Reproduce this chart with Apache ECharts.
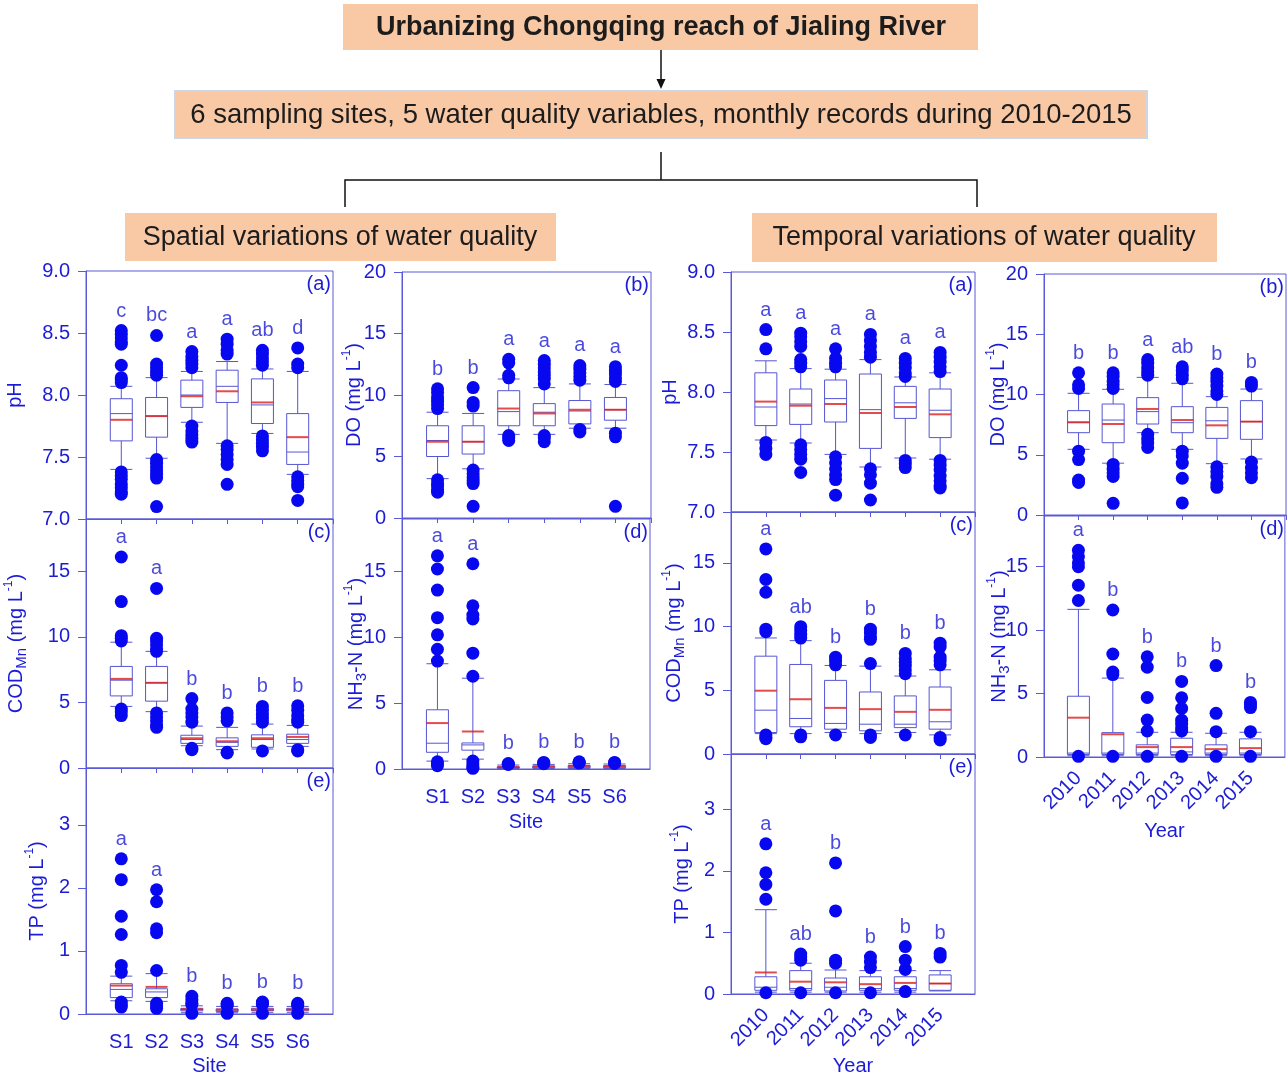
<!DOCTYPE html>
<html>
<head>
<meta charset="utf-8">
<script src="https://cdn.jsdelivr.net/npm/echarts@6/dist/echarts.min.js"></script>
<style>
  html, body { margin: 0; padding: 0; background: #ffffff; }
  #chart { width: 1287px; height: 1077px; }
</style>
</head>
<body>
<div id="chart"></div>
<script>
// ---- categories ----
const sites = ['S1', 'S2', 'S3', 'S4', 'S5', 'S6'];
const years = ['2010', '2011', '2012', '2013', '2014', '2015'];

// ---- spatial variations (by site) ----
// box stats: [lower whisker, Q1, median, Q3, upper whisker]
const spPhBox = [[7.40, 7.63, 7.85, 7.97, 8.07], [7.49, 7.66, 7.83, 7.98, 8.14], [7.78, 7.90, 8.00, 8.12, 8.19],
                 [7.61, 7.94, 8.07, 8.20, 8.27], [7.69, 7.77, 7.92, 8.13, 8.21], [7.36, 7.44, 7.54, 7.85, 8.19]];
const spPhMean = [7.80, 7.83, 7.99, 8.03, 7.94, 7.66];
const spPhOut = [[8.52, 8.49, 8.46, 8.43, 8.41, 8.24, 8.14, 8.12, 8.10, 7.38, 7.35, 7.32, 7.28, 7.25, 7.22, 7.20],
                 [8.48, 8.25, 8.22, 8.19, 8.16, 7.48, 7.45, 7.42, 7.39, 7.36, 7.33, 7.10],
                 [8.35, 8.31, 8.28, 8.25, 8.22, 7.75, 7.71, 7.68, 7.65, 7.62],
                 [8.45, 8.41, 8.36, 8.33, 7.59, 7.56, 7.52, 7.48, 7.44, 7.28],
                 [8.36, 8.33, 8.30, 8.27, 8.24, 7.67, 7.64, 7.61, 7.58, 7.55],
                 [8.38, 8.25, 8.22, 7.34, 7.31, 7.28, 7.26, 7.15]];
const spPhLetters = ['c', 'bc', 'a', 'a', 'ab', 'd'];

const spDoBox = [[3.2, 5.0, 6.3, 7.5, 8.6], [4.0, 5.2, 6.2, 7.5, 8.5], [6.8, 7.5, 8.65, 10.35, 11.3],
                 [6.8, 7.5, 8.6, 9.3, 10.6], [7.3, 7.65, 8.7, 9.55, 10.9], [7.3, 7.95, 8.8, 9.8, 10.85]];
const spDoMean = [6.2, 6.2, 8.9, 8.5, 8.8, 8.8];
const spDoOut = [[10.5, 10.2, 9.8, 9.5, 9.2, 8.9, 3.1, 2.8, 2.6, 2.3, 2.1],
                 [10.6, 9.4, 9.1, 3.9, 3.6, 3.3, 3.0, 2.8, 0.95],
                 [12.9, 12.6, 11.6, 11.4, 6.7, 6.5, 6.3],
                 [12.8, 12.5, 12.2, 11.9, 11.6, 11.3, 10.9, 6.7, 6.5, 6.2],
                 [12.4, 12.1, 11.8, 11.5, 11.2, 7.2, 7.0],
                 [12.3, 12.0, 11.7, 11.4, 11.1, 6.9, 6.6, 0.95]];
const spDoLetters = ['b', 'b', 'a', 'a', 'a', 'a'];

const spCodBox = [[4.7, 5.5, 6.7, 7.75, 9.6], [4.3, 5.1, 6.5, 7.75, 8.9], [1.7, 1.88, 2.17, 2.5, 3.2],
                  [1.4, 1.65, 1.96, 2.3, 3.1], [1.45, 1.58, 2.17, 2.53, 3.35], [1.65, 1.88, 2.17, 2.58, 3.25]];
const spCodMean = [6.8, 6.5, 2.27, 2.04, 2.27, 2.37];
const spCodOut = [[16.1, 12.7, 10.1, 9.9, 9.7, 4.5, 4.3, 4.0],
                  [13.7, 9.9, 9.7, 9.4, 9.1, 8.9, 4.2, 3.9, 3.6, 3.3, 3.1],
                  [5.3, 4.5, 4.2, 3.9, 3.5, 1.5, 1.4],
                  [4.2, 3.9, 3.6, 1.2, 1.15],
                  [4.7, 4.4, 4.1, 3.8, 3.5, 1.3],
                  [4.75, 4.4, 4.0, 3.7, 3.5, 1.4, 1.3]];
const spCodLetters = ['a', 'a', 'b', 'b', 'b', 'b'];

const spNhBox = [[0.6, 1.27, 1.96, 4.5, 8.0], [0.75, 1.43, 1.83, 1.98, 6.9], [0.03, 0.07, 0.11, 0.17, 0.3],
                 [0.03, 0.08, 0.14, 0.22, 0.35], [0.04, 0.1, 0.16, 0.25, 0.4], [0.04, 0.09, 0.15, 0.24, 0.38]];
const spNhMean = [3.49, 2.85, 0.14, 0.2, 0.24, 0.22];
const spNhOut = [[16.2, 15.2, 13.6, 11.5, 10.2, 9.1, 8.2, 0.55, 0.4, 0.25],
                 [15.6, 12.4, 11.7, 11.4, 8.8, 7.05, 0.6, 0.4, 0.15, 0.05],
                 [0.42, 0.38, 0.34],
                 [0.5, 0.45, 0.4],
                 [0.55, 0.5, 0.45],
                 [0.5, 0.46, 0.42]];
const spNhLetters = ['a', 'a', 'b', 'b', 'b', 'b'];

const spTpBox = [[0.21, 0.26, 0.39, 0.48, 0.60], [0.20, 0.26, 0.35, 0.40, 0.64], [0.02, 0.05, 0.07, 0.09, 0.13],
                 [0.02, 0.04, 0.06, 0.08, 0.12], [0.02, 0.05, 0.06, 0.09, 0.12], [0.02, 0.05, 0.07, 0.09, 0.12]];
const spTpMean = [0.45, 0.43, 0.075, 0.07, 0.07, 0.07];
const spTpOut = [[2.46, 2.13, 1.55, 1.26, 0.77, 0.66, 0.19, 0.15, 0.11],
                 [1.97, 1.78, 1.35, 1.29, 0.69, 0.17, 0.13, 0.09],
                 [0.28, 0.22, 0.17, 0.15, 0.01],
                 [0.17, 0.15, 0.13, 0.01],
                 [0.19, 0.17, 0.15, 0.01],
                 [0.17, 0.15, 0.13, 0.01]];
const spTpLetters = ['a', 'a', 'b', 'b', 'b', 'b'];

// ---- temporal variations (by year) ----
const tmPhBox = [[7.60, 7.72, 7.875, 8.16, 8.26], [7.575, 7.73, 7.90, 8.025, 8.195], [7.48, 7.75, 7.945, 8.10, 8.19],
                 [7.375, 7.53, 7.853, 8.15, 8.27], [7.45, 7.78, 7.91, 8.047, 8.125], [7.44, 7.62, 7.848, 8.025, 8.16]];
const tmPhMean = [7.92, 7.886, 7.90, 7.825, 7.875, 7.814];
const tmPhOut = [[8.52, 8.36, 7.58, 7.53, 7.48],
                 [8.49, 8.46, 8.42, 8.38, 8.27, 8.24, 8.21, 7.56, 7.52, 7.48, 7.44, 7.33],
                 [8.36, 8.28, 8.24, 8.21, 7.46, 7.41, 7.36, 7.31, 7.27, 7.14],
                 [8.48, 8.43, 8.38, 8.33, 8.29, 7.36, 7.31, 7.24, 7.10],
                 [8.28, 8.24, 8.20, 8.16, 8.13, 7.43, 7.40, 7.37],
                 [8.33, 8.29, 8.25, 8.21, 8.17, 7.43, 7.39, 7.35, 7.30, 7.26, 7.22, 7.20]];
const tmPhLetters = ['a', 'a', 'a', 'a', 'a', 'a'];

const tmDoBox = [[5.45, 6.83, 7.7, 8.66, 10.1], [4.3, 6.0, 7.88, 9.21, 10.43], [6.83, 7.55, 8.58, 9.74, 11.42],
                 [5.45, 6.83, 7.66, 8.99, 10.93], [4.26, 6.36, 7.82, 8.93, 9.82], [4.65, 6.28, 7.75, 9.49, 10.45]];
const tmDoMean = [7.69, 7.55, 8.8, 7.88, 7.44, 7.75];
const tmDoOut = [[11.8, 10.8, 10.5, 5.3, 4.6, 2.9, 2.7],
                 [11.8, 11.5, 11.1, 10.8, 10.5, 4.2, 3.8, 3.5, 3.2, 0.97],
                 [12.9, 12.6, 12.2, 11.9, 11.6, 6.7, 6.3, 6.0, 5.6],
                 [12.3, 12.0, 11.6, 11.3, 5.3, 4.9, 4.3, 3.05, 1.0],
                 [11.7, 11.4, 11.1, 10.7, 10.3, 10.0, 4.0, 3.6, 3.2, 2.6, 2.3],
                 [11.0, 10.7, 4.4, 3.9, 3.5, 3.1]];
const tmDoLetters = ['b', 'b', 'a', 'ab', 'b', 'b'];

const tmCodBox = [[1.6, 1.69, 3.44, 7.68, 9.11], [1.6, 2.14, 2.79, 7.03, 8.9], [1.69, 1.95, 2.4, 5.78, 6.95],
                  [1.6, 1.82, 2.34, 4.87, 6.9], [1.69, 2.07, 2.34, 4.56, 6.12], [1.5, 1.95, 2.53, 5.26, 6.61]];
const tmCodMean = [4.97, 4.3, 3.62, 3.52, 3.31, 3.47];
const tmCodOut = [[16.1, 13.7, 12.7, 9.8, 9.6, 1.5, 1.3, 1.2],
                  [10.0, 9.7, 9.4, 9.1, 1.5, 1.35],
                  [7.6, 7.3, 7.0, 1.5],
                  [9.8, 9.5, 9.2, 9.0, 7.1, 1.5, 1.3],
                  [7.9, 7.5, 7.2, 6.9, 6.6, 6.3, 1.5],
                  [8.7, 8.4, 7.6, 7.3, 7.0, 1.3, 1.1]];
const tmCodLetters = ['a', 'ab', 'b', 'b', 'b', 'b'];

const tmNhBox = [[0.1, 0.2, 0.31, 4.79, 11.64], [0.1, 0.2, 0.31, 1.92, 6.22], [0.1, 0.2, 0.31, 0.96, 1.95],
                 [0.1, 0.2, 0.4, 1.48, 1.95], [0.1, 0.2, 0.31, 0.96, 1.87], [0.1, 0.2, 0.31, 1.43, 1.95]];
const tmNhMean = [3.1, 1.79, 0.78, 0.78, 0.62, 0.7];
const tmNhOut = [[16.3, 15.8, 15.3, 15.0, 13.54, 12.34, 0.05],
                 [11.59, 8.12, 6.7, 6.5, 0.05],
                 [7.9, 7.08, 4.69, 2.91, 2.05, 0.05],
                 [5.96, 4.67, 3.83, 2.9, 2.6, 2.3, 2.05, 0.05],
                 [7.21, 3.44, 2.0, 0.05],
                 [4.3, 4.1, 3.9, 2.0, 0.05]];
const tmNhLetters = ['a', 'b', 'b', 'b', 'b', 'b'];

const tmTpBox = [[0.03, 0.06, 0.11, 0.28, 1.37], [0.03, 0.06, 0.09, 0.38, 0.50], [0.03, 0.05, 0.11, 0.26, 0.39],
                 [0.03, 0.06, 0.09, 0.28, 0.38], [0.03, 0.06, 0.09, 0.28, 0.38], [0.05, 0.06, 0.17, 0.31, 0.38]];
const tmTpMean = [0.35, 0.20, 0.19, 0.16, 0.18, 0.17];
const tmTpOut = [[2.44, 1.97, 1.78, 1.54, 0.02],
                 [0.65, 0.60, 0.55, 0.02],
                 [2.13, 1.35, 0.55, 0.50, 0.02],
                 [0.60, 0.52, 0.43, 0.02],
                 [0.77, 0.55, 0.40, 0.04],
                 [0.66, 0.60]];
const tmTpLetters = ['a', 'ab', 'b', 'b', 'b', 'b'];

// ---- styling ----
const W = 1287;
const FONT = 'Liberation Sans, Arial, Helvetica, sans-serif';
const TXT = '#1c1cd6';
const FRAME = '#5a5ad8';
const BOXLINE = '#5656d4';
const DOT = '#0808f0';
const MEANC = '#e01e1e';
const PEACH = '#f9c8a5';
const DARK = '#1c1c1c';

const nameRich = {
  t: { fontSize: 20, lineHeight: 26, color: TXT, fontFamily: FONT },
  sub: { fontSize: 15, verticalAlign: 'bottom', color: TXT, fontFamily: FONT },
  sup: { fontSize: 12, verticalAlign: 'top', color: TXT, fontFamily: FONT }
};
const NAME_PH = '{t|pH}';
const NAME_DO = '{t|DO (mg L}{sup|-1}{t|)}';
const NAME_COD = '{t|COD}{sub|Mn}{t| (mg L}{sup|-1}{t|)}';
const NAME_NH = '{t|NH}{sub|3}{t|-N (mg L}{sup|-1}{t|)}';
const NAME_TP = '{t|TP (mg L}{sup|-1}{t|)}';

const AX_PH = { min: 7, max: 9, interval: 0.5, dec: 1 };
const AX_DO = { min: 0, max: 20, interval: 5, dec: 0 };
const AX_COD = { min: 0, max: 19, interval: 5, dec: 0, hideMax: true };
const AX_NH = { min: 0, max: 19, interval: 5, dec: 0, hideMax: true };
const AX_TP = { min: 0, max: 3.9, interval: 1, dec: 0, hideMax: true };

// panel layout: rect = [left, top, width, height]; gap = y-axis name gap; xGap = x-axis name gap
const panels = [
  { tag: '(a)', cats: sites, box: spPhBox, mean: spPhMean, out: spPhOut, letters: spPhLetters, rect: [86, 271, 247, 248], ax: AX_PH, name: NAME_PH, gap: 58 },
  { tag: '(c)', cats: sites, box: spCodBox, mean: spCodMean, out: spCodOut, letters: spCodLetters, rect: [86, 519, 247, 249], ax: AX_COD, name: NAME_COD, gap: 57 },
  { tag: '(e)', cats: sites, box: spTpBox, mean: spTpMean, out: spTpOut, letters: spTpLetters, rect: [86, 768, 247, 248], ax: AX_TP, name: NAME_TP, gap: 36, bottom: 'Site', xGap: 42 },
  { tag: '(b)', cats: sites, box: spDoBox, mean: spDoMean, out: spDoOut, letters: spDoLetters, rect: [402, 272, 249, 246], ax: AX_DO, name: NAME_DO, gap: 35 },
  { tag: '(d)', cats: sites, box: spNhBox, mean: spNhMean, out: spNhOut, letters: spNhLetters, rect: [402, 519, 248, 250], ax: AX_NH, name: NAME_NH, gap: 33, bottom: 'Site', xGap: 43 },
  { tag: '(a)', cats: years, box: tmPhBox, mean: tmPhMean, out: tmPhOut, letters: tmPhLetters, rect: [731, 272, 244, 240], ax: AX_PH, name: NAME_PH, gap: 48 },
  { tag: '(c)', cats: years, box: tmCodBox, mean: tmCodMean, out: tmCodOut, letters: tmCodLetters, rect: [731, 512, 244, 242], ax: AX_COD, name: NAME_COD, gap: 44 },
  { tag: '(e)', cats: years, box: tmTpBox, mean: tmTpMean, out: tmTpOut, letters: tmTpLetters, rect: [731, 754, 244, 242], ax: AX_TP, name: NAME_TP, gap: 36, bottom: 'Year', xGap: 62, rot: true },
  { tag: '(b)', cats: years, box: tmDoBox, mean: tmDoMean, out: tmDoOut, letters: tmDoLetters, rect: [1044, 274, 242, 241], ax: AX_DO, name: NAME_DO, gap: 33 },
  { tag: '(d)', cats: years, box: tmNhBox, mean: tmNhMean, out: tmNhOut, letters: tmNhLetters, rect: [1044, 516, 242, 241], ax: AX_NH, name: NAME_NH, gap: 32, bottom: 'Year', xGap: 64, rot: true }
];

const grid = [], xAxis = [], yAxis = [], series = [], title = [];

panels.forEach((p, g) => {
  const [l, t, w, h] = p.rect;
  grid.push({ left: l, top: t, width: w, height: h, show: true, borderColor: FRAME, borderWidth: 1, backgroundColor: 'transparent' });

  title.push({
    text: p.tag, right: W - (l + w) + 2, top: t + 3, padding: 0,
    textStyle: { fontSize: 20, fontWeight: 'normal', color: TXT, fontFamily: FONT }
  });

  const isBottom = !!p.bottom;
  xAxis.push({
    gridIndex: g, type: 'value', min: 0, max: 7, interval: 1,
    axisLine: { show: true, lineStyle: { color: FRAME, width: 1 } },
    axisTick: { show: !isBottom, length: 5, lineStyle: { color: FRAME } },
    splitLine: { show: false },
    axisLabel: {
      show: isBottom,
      formatter: v => p.cats[v - 1] || '',
      rotate: p.rot ? 45 : 0,
      margin: 18,
      fontSize: 20, color: TXT, fontFamily: FONT
    },
    name: p.bottom || '',
    nameLocation: 'middle',
    nameGap: p.xGap || 40,
    nameTextStyle: { fontSize: 20, color: TXT, fontFamily: FONT }
  });

  yAxis.push({
    gridIndex: g, type: 'value', min: p.ax.min, max: p.ax.max, interval: p.ax.interval,
    axisLine: { show: true, lineStyle: { color: FRAME, width: 1 } },
    axisTick: { show: true, length: 8, lineStyle: { color: FRAME } },
    splitLine: { show: false },
    axisLabel: {
      margin: 16, fontSize: 20, color: TXT, fontFamily: FONT,
      showMaxLabel: !p.ax.hideMax,
      formatter: v => v.toFixed(p.ax.dec)
    },
    name: p.name,
    nameLocation: 'middle',
    nameRotate: 90,
    nameGap: p.gap,
    nameMoveOverlap: false,
    nameTextStyle: { fontSize: 20, color: TXT, fontFamily: FONT, rich: nameRich }
  });

  // boxes with whiskers and median
  series.push({
    type: 'boxplot', xAxisIndex: g, yAxisIndex: g,
    data: p.box.map((b, i) => [i + 1].concat(b)),
    boxWidth: [22, 22],
    itemStyle: { color: '#ffffff', borderColor: BOXLINE, borderWidth: 1 },
    silent: true, z: 2
  });
  // mean as a red bar across the box
  series.push({
    type: 'scatter', xAxisIndex: g, yAxisIndex: g,
    data: p.mean.map((m, i) => [i + 1, m]),
    symbol: 'rect', symbolSize: [22, 2],
    itemStyle: { color: MEANC },
    silent: true, z: 3
  });
  // outliers
  const outs = [];
  p.out.forEach((arr, i) => arr.forEach(v => outs.push([i + 1, v])));
  series.push({
    type: 'scatter', xAxisIndex: g, yAxisIndex: g,
    data: outs, symbol: 'circle', symbolSize: 13,
    itemStyle: { color: DOT, opacity: 1 },
    silent: true, z: 4
  });
  // significance letters above the highest point of each group
  series.push({
    type: 'scatter', xAxisIndex: g, yAxisIndex: g,
    data: p.letters.map((s, i) => ({ value: [i + 1, Math.max(p.box[i][4], ...p.out[i])], letter: s })),
    symbol: 'circle', symbolSize: 1,
    itemStyle: { color: 'rgba(0,0,0,0)' },
    label: {
      show: true, position: 'top', distance: 9,
      formatter: prm => prm.data.letter,
      fontSize: 20, color: TXT, fontFamily: FONT
    },
    silent: true, z: 5
  });
});

// flow-chart header
const headerFont = (bold, size) => (bold ? 'bold ' : '') + size + 'px ' + FONT;
const graphic = [
  { type: 'rect', shape: { x: 343, y: 4, width: 635, height: 46 }, style: { fill: PEACH } },
  { type: 'text', x: 661, y: 28, style: { text: 'Urbanizing Chongqing reach of Jialing River', font: headerFont(true, 27), fill: DARK, align: 'center', verticalAlign: 'middle' } },
  { type: 'line', shape: { x1: 661, y1: 50, x2: 661, y2: 82 }, style: { stroke: '#111', lineWidth: 1.5 } },
  { type: 'polygon', shape: { points: [[656.5, 79], [665.5, 79], [661, 89]] }, style: { fill: '#111' } },
  { type: 'rect', shape: { x: 175, y: 91, width: 972, height: 47 }, style: { fill: PEACH, stroke: '#cdd7e4', lineWidth: 2 } },
  { type: 'text', x: 661, y: 115, style: { text: '6 sampling sites, 5 water quality variables, monthly records during 2010-2015', font: headerFont(false, 27.5), fill: DARK, align: 'center', verticalAlign: 'middle' } },
  { type: 'line', shape: { x1: 661, y1: 152, x2: 661, y2: 180 }, style: { stroke: '#111', lineWidth: 1.5 } },
  { type: 'polyline', shape: { points: [[345, 207], [345, 180], [977, 180], [977, 207]] }, style: { stroke: '#111', lineWidth: 1.5, fill: null } },
  { type: 'rect', shape: { x: 125, y: 213, width: 431, height: 48 }, style: { fill: PEACH } },
  { type: 'text', x: 340, y: 238, style: { text: 'Spatial variations of water quality', font: headerFont(false, 27), fill: DARK, align: 'center', verticalAlign: 'middle' } },
  { type: 'rect', shape: { x: 752, y: 213, width: 465, height: 49 }, style: { fill: PEACH } },
  { type: 'text', x: 984, y: 238, style: { text: 'Temporal variations of water quality', font: headerFont(false, 27), fill: DARK, align: 'center', verticalAlign: 'middle' } }
];

const chart = echarts.init(document.getElementById('chart'), null, { renderer: 'canvas' });
chart.setOption({
  animation: false,
  backgroundColor: '#ffffff',
  title: title,
  grid: grid,
  xAxis: xAxis,
  yAxis: yAxis,
  series: series,
  graphic: graphic
});
</script>
</body>
</html>
